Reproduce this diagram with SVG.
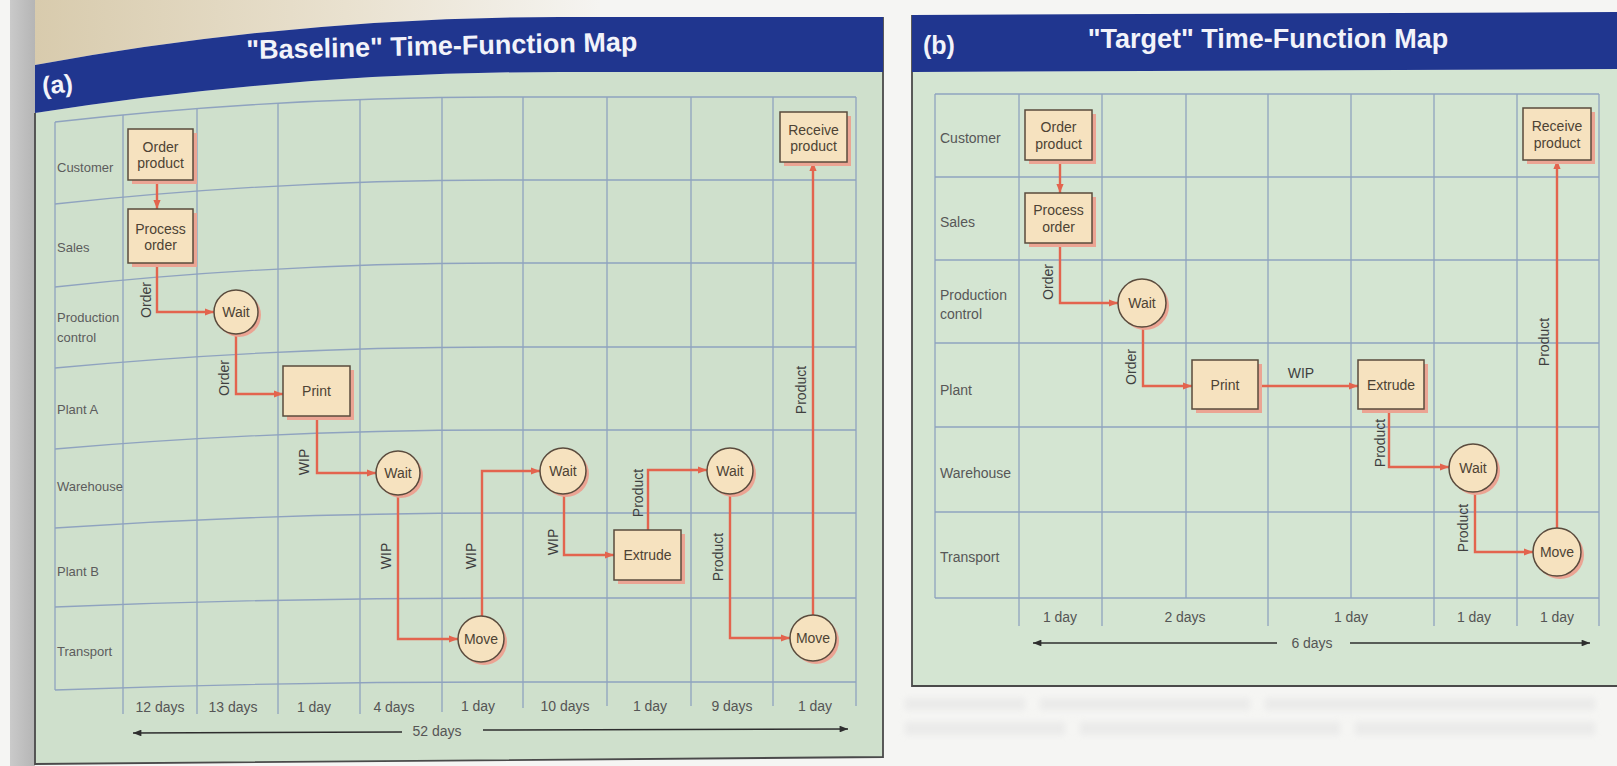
<svg xmlns="http://www.w3.org/2000/svg" width="1617" height="766" viewBox="0 0 1617 766">
  <style>
    .t { font-family: "Liberation Sans", Arial, Helvetica, sans-serif; }
    .grid { stroke: #8fa3bf; stroke-width: 1.3; fill: none; }
    .box { fill: #f6e2bf; stroke: #5a4b3d; stroke-width: 1.5; }
    .shadow { fill: #eba493; }
    .ntext { font-size: 14px; fill: #4d4234; text-anchor: middle; }
    .conn { stroke: #e3644e; stroke-width: 2.4; fill: none; stroke-linejoin: miter; marker-end: url(#arr); }
    .clabel { font-size: 14px; fill: #3f3f3f; text-anchor: middle; }
    .row-a { font-size: 13px; fill: #5c5c5c; }
    .row-b { font-size: 14px; fill: #575757; }
    .day { font-size: 14px; fill: #555555; text-anchor: middle; }
    .dim { stroke: #2e2e2e; stroke-width: 1.6; fill: none; marker-end: url(#dimarr); }
    .title { font-size: 27px; font-weight: bold; fill: #f2f3fa; text-anchor: middle; }
    .tag { font-size: 25px; font-weight: bold; fill: #f2f3fa; }
    .frame { fill: none; stroke: #4a4a4a; stroke-width: 1.8; }
  </style>
  <defs>
    <marker id="arr" viewBox="0 0 10 8" refX="10" refY="4" markerWidth="3.8" markerHeight="3.1" orient="auto">
      <path d="M0,0 L10,4 L0,8 z" fill="#e3644e"/>
    </marker>
    <marker id="dimarr" viewBox="0 0 10 8" refX="10" refY="4" markerWidth="6" markerHeight="4.2" orient="auto">
      <path d="M0,0 L10,4 L0,8 z" fill="#2e2e2e"/>
    </marker>
    <linearGradient id="paperTop" x1="0" y1="0" x2="1" y2="0">
      <stop offset="0" stop-color="#d8cbad"/>
      <stop offset="0.55" stop-color="#e9e1cf"/>
      <stop offset="1" stop-color="#f5f4f1"/>
    </linearGradient>
    <linearGradient id="spine" x1="0" y1="0" x2="1" y2="0">
      <stop offset="0" stop-color="#cacaca"/>
      <stop offset="1" stop-color="#b5b5b5"/>
    </linearGradient>
    <filter id="soft" x="-5%" y="-50%" width="110%" height="200%">
      <feGaussianBlur stdDeviation="3"/>
    </filter>
  </defs>

  <!-- page -->
  <rect x="0" y="0" width="1617" height="766" fill="#f5f5f3"/>
  <path d="M35,0 H600 V17 H560 Q297.5,17 35,65 z" fill="url(#paperTop)"/>
  <rect x="10" y="0" width="25" height="766" fill="url(#spine)"/>

  <!-- faint print showing through below panel (b) -->
  <g filter="url(#soft)" fill="#e2e2e2" opacity="0.55">
    <rect x="905" y="698" width="120" height="12"/>
    <rect x="1040" y="698" width="210" height="12"/>
    <rect x="1265" y="698" width="330" height="12"/>
    <rect x="905" y="722" width="160" height="13"/>
    <rect x="1080" y="722" width="260" height="13"/>
    <rect x="1355" y="722" width="240" height="13"/>
  </g>

  <!-- ===== Panel (a): baseline map ===== -->
  <g id="panel-a">
    <path d="M35,113 Q297.5,72 560,72 H883 V757 L35,764 z" fill="#cfe0cc"/>
    <path d="M35,113 V764 L883,757 V17" class="frame"/>
    <path d="M35,65 Q297.5,17 560,17 H883 V72 H560 Q297.5,72 35,113 z" fill="#20368f"/>
    <text class="t tag" x="42" y="93" transform="rotate(-6 57 84)">(a)</text>
    <text class="t title" x="442" y="55" transform="rotate(-1.2 442 55)">"Baseline" Time-Function Map</text>

    <!-- grid -->
    <g id="grid-a">
      <path class="grid" d="M55,122 Q277.5,97 500,97 H856"/>
      <path class="grid" d="M55,204 Q277.5,180 500,180 H856"/>
      <path class="grid" d="M55,287 Q277.5,263 500,263 H856"/>
      <path class="grid" d="M55,368 Q277.5,347 500,347 H856"/>
      <path class="grid" d="M55,449 Q277.5,430 500,430 H856"/>
      <path class="grid" d="M55,528 Q277.5,513 500,513 H856"/>
      <path class="grid" d="M55,607 Q277.5,598 500,598 H856"/>
      <path class="grid" d="M55,690 Q277.5,682 500,682 H856"/>
      <path class="grid" d="M55,122 V690"/>
      <path class="grid" d="M123,115 V714"/>
      <path class="grid" d="M197,109 V714"/>
      <path class="grid" d="M278,103 V714"/>
      <path class="grid" d="M360,99.5 V714"/>
      <path class="grid" d="M442,97.4 V712"/>
      <path class="grid" d="M523,97 V708"/>
      <path class="grid" d="M607,97 V706"/>
      <path class="grid" d="M691,97 V706"/>
      <path class="grid" d="M773,97 V706"/>
      <path class="grid" d="M856,97 V706"/>
    </g>

    <!-- lane names -->
    <g id="lanes-a" class="t row-a">
      <text x="57" y="172">Customer</text>
      <text x="57" y="252">Sales</text>
      <text x="57" y="322">Production</text>
      <text x="57" y="342">control</text>
      <text x="57" y="414">Plant A</text>
      <text x="57" y="491">Warehouse</text>
      <text x="57" y="576">Plant B</text>
      <text x="57" y="656">Transport</text>
    </g>

    <!-- connectors -->
    <g id="connectors-a">
      <path class="conn" d="M157,180 V209"/>
      <path class="conn" d="M157,263 V312 H214"/>
      <path class="conn" d="M236,334 V394 H283"/>
      <path class="conn" d="M317,416 V473 H376"/>
      <path class="conn" d="M398,495 V639 H458"/>
      <path class="conn" d="M482,616 V471 H540"/>
      <path class="conn" d="M564,494 V555 H614"/>
      <path class="conn" d="M648,530 V470 H707"/>
      <path class="conn" d="M730,494 V638 H790"/>
      <path class="conn" d="M813,615 V162"/>
      <g class="t clabel">
        <text transform="translate(151 300) rotate(-90)">Order</text>
        <text transform="translate(229 378) rotate(-90)">Order</text>
        <text transform="translate(309 462) rotate(-90)">WIP</text>
        <text transform="translate(391 556) rotate(-90)">WIP</text>
        <text transform="translate(476 556) rotate(-90)">WIP</text>
        <text transform="translate(558 542) rotate(-90)">WIP</text>
        <text transform="translate(643 493) rotate(-90)">Product</text>
        <text transform="translate(723 557) rotate(-90)">Product</text>
        <text transform="translate(806 390) rotate(-90)">Product</text>
      </g>
    </g>

    <!-- activities -->
    <g id="a-order-product">
      <rect class="shadow" x="132" y="133" width="65" height="51"/>
      <rect class="box" x="128" y="129" width="65" height="51"/>
      <text class="t ntext" x="160.5" y="152">Order</text>
      <text class="t ntext" x="160.5" y="168">product</text>
    </g>
    <g id="a-process-order">
      <rect class="shadow" x="132" y="213" width="65" height="54"/>
      <rect class="box" x="128" y="209" width="65" height="54"/>
      <text class="t ntext" x="160.5" y="234">Process</text>
      <text class="t ntext" x="160.5" y="250">order</text>
    </g>
    <g id="a-wait-1">
      <circle class="shadow" cx="239" cy="315" r="22"/>
      <circle class="box" cx="236" cy="312" r="22"/>
      <text class="t ntext" x="236" y="317">Wait</text>
    </g>
    <g id="a-print">
      <rect class="shadow" x="287" y="370" width="67" height="50"/>
      <rect class="box" x="283" y="366" width="67" height="50"/>
      <text class="t ntext" x="316.5" y="396">Print</text>
    </g>
    <g id="a-wait-2">
      <circle class="shadow" cx="401" cy="476" r="22"/>
      <circle class="box" cx="398" cy="473" r="22"/>
      <text class="t ntext" x="398" y="478">Wait</text>
    </g>
    <g id="a-move-1">
      <circle class="shadow" cx="484" cy="642" r="23"/>
      <circle class="box" cx="481" cy="639" r="23"/>
      <text class="t ntext" x="481" y="644">Move</text>
    </g>
    <g id="a-wait-3">
      <circle class="shadow" cx="566" cy="474" r="23"/>
      <circle class="box" cx="563" cy="471" r="23"/>
      <text class="t ntext" x="563" y="476">Wait</text>
    </g>
    <g id="a-extrude">
      <rect class="shadow" x="618" y="534" width="67" height="50"/>
      <rect class="box" x="614" y="530" width="67" height="50"/>
      <text class="t ntext" x="647.5" y="560">Extrude</text>
    </g>
    <g id="a-wait-4">
      <circle class="shadow" cx="733" cy="474" r="23"/>
      <circle class="box" cx="730" cy="471" r="23"/>
      <text class="t ntext" x="730" y="476">Wait</text>
    </g>
    <g id="a-move-2">
      <circle class="shadow" cx="816" cy="641" r="23"/>
      <circle class="box" cx="813" cy="638" r="23"/>
      <text class="t ntext" x="813" y="643">Move</text>
    </g>
    <g id="a-receive-product">
      <rect class="shadow" x="784" y="116" width="67" height="50"/>
      <rect class="box" x="780" y="112" width="67" height="50"/>
      <text class="t ntext" x="813.5" y="135">Receive</text>
      <text class="t ntext" x="813.5" y="151">product</text>
    </g>

    <!-- elapsed time -->
    <g id="time-a">
      <g class="t day">
        <text x="160" y="712">12 days</text>
        <text x="233" y="712">13 days</text>
        <text x="314" y="712">1 day</text>
        <text x="394" y="712">4 days</text>
        <text x="478" y="711">1 day</text>
        <text x="565" y="711">10 days</text>
        <text x="650" y="711">1 day</text>
        <text x="732" y="711">9 days</text>
        <text x="815" y="711">1 day</text>
        <text x="437" y="736">52 days</text>
      </g>
      <path class="dim" d="M402,732 L133,733"/>
      <path class="dim" d="M483,730 L848,729"/>
    </g>
  </g>

  <!-- ===== Panel (b): target map ===== -->
  <g id="panel-b">
    <path d="M912,72 L1617,69 V686 H912 z" fill="#d4e5d2"/>
    <path d="M912,15 V686 H1617" class="frame"/>
    <path d="M912,15 L1617,12 V69 L912,72 z" fill="#20368f"/>
    <text class="t tag" x="923" y="54">(b)</text>
    <text class="t title" x="1268" y="48">"Target" Time-Function Map</text>

    <g id="grid-b">
      <path class="grid" d="M935,94 H1599"/>
      <path class="grid" d="M935,177 H1599"/>
      <path class="grid" d="M935,260 H1599"/>
      <path class="grid" d="M935,343 H1599"/>
      <path class="grid" d="M935,427 H1599"/>
      <path class="grid" d="M935,512 H1599"/>
      <path class="grid" d="M935,598 H1599"/>
      <path class="grid" d="M935,94 V598"/>
      <path class="grid" d="M1019,94 V626"/>
      <path class="grid" d="M1102,94 V626"/>
      <path class="grid" d="M1186,94 V598"/>
      <path class="grid" d="M1268,94 V626"/>
      <path class="grid" d="M1351,94 V598"/>
      <path class="grid" d="M1434,94 V626"/>
      <path class="grid" d="M1517,94 V626"/>
      <path class="grid" d="M1599,94 V626"/>
    </g>

    <g id="lanes-b" class="t row-b">
      <text x="940" y="143">Customer</text>
      <text x="940" y="227">Sales</text>
      <text x="940" y="300">Production</text>
      <text x="940" y="319">control</text>
      <text x="940" y="395">Plant</text>
      <text x="940" y="478">Warehouse</text>
      <text x="940" y="562">Transport</text>
    </g>

    <g id="connectors-b">
      <path class="conn" d="M1060,160 V193"/>
      <path class="conn" d="M1060,243 V303 H1118"/>
      <path class="conn" d="M1143,327 V386 H1192"/>
      <path class="conn" d="M1258,386 H1358"/>
      <path class="conn" d="M1389,409 V467 H1449"/>
      <path class="conn" d="M1475,492 V552 H1533"/>
      <path class="conn" d="M1557,528 V160"/>
      <g class="t clabel">
        <text transform="translate(1053 282) rotate(-90)">Order</text>
        <text transform="translate(1136 367) rotate(-90)">Order</text>
        <text x="1301" y="378">WIP</text>
        <text transform="translate(1385 443) rotate(-90)">Product</text>
        <text transform="translate(1468 528) rotate(-90)">Product</text>
        <text transform="translate(1549 342) rotate(-90)">Product</text>
      </g>
    </g>

    <g id="b-order-product">
      <rect class="shadow" x="1029" y="114" width="67" height="50"/>
      <rect class="box" x="1025" y="110" width="67" height="50"/>
      <text class="t ntext" x="1058.5" y="132">Order</text>
      <text class="t ntext" x="1058.5" y="149">product</text>
    </g>
    <g id="b-process-order">
      <rect class="shadow" x="1029" y="197" width="67" height="50"/>
      <rect class="box" x="1025" y="193" width="67" height="50"/>
      <text class="t ntext" x="1058.5" y="215">Process</text>
      <text class="t ntext" x="1058.5" y="232">order</text>
    </g>
    <g id="b-wait-1">
      <circle class="shadow" cx="1145" cy="306" r="24"/>
      <circle class="box" cx="1142" cy="303" r="24"/>
      <text class="t ntext" x="1142" y="308">Wait</text>
    </g>
    <g id="b-print">
      <rect class="shadow" x="1196" y="364" width="66" height="49"/>
      <rect class="box" x="1192" y="360" width="66" height="49"/>
      <text class="t ntext" x="1225" y="390">Print</text>
    </g>
    <g id="b-extrude">
      <rect class="shadow" x="1362" y="364" width="66" height="49"/>
      <rect class="box" x="1358" y="360" width="66" height="49"/>
      <text class="t ntext" x="1391" y="390">Extrude</text>
    </g>
    <g id="b-wait-2">
      <circle class="shadow" cx="1476" cy="471" r="24"/>
      <circle class="box" cx="1473" cy="468" r="24"/>
      <text class="t ntext" x="1473" y="473">Wait</text>
    </g>
    <g id="b-move">
      <circle class="shadow" cx="1560" cy="555" r="24"/>
      <circle class="box" cx="1557" cy="552" r="24"/>
      <text class="t ntext" x="1557" y="557">Move</text>
    </g>
    <g id="b-receive-product">
      <rect class="shadow" x="1527" y="112" width="68" height="52"/>
      <rect class="box" x="1523" y="108" width="68" height="52"/>
      <text class="t ntext" x="1557" y="131">Receive</text>
      <text class="t ntext" x="1557" y="148">product</text>
    </g>

    <g id="time-b">
      <g class="t day">
        <text x="1060" y="622">1 day</text>
        <text x="1185" y="622">2 days</text>
        <text x="1351" y="622">1 day</text>
        <text x="1474" y="622">1 day</text>
        <text x="1557" y="622">1 day</text>
        <text x="1312" y="648">6 days</text>
      </g>
      <path class="dim" d="M1277,643 H1033"/>
      <path class="dim" d="M1350,643 H1590"/>
    </g>
  </g>
</svg>
